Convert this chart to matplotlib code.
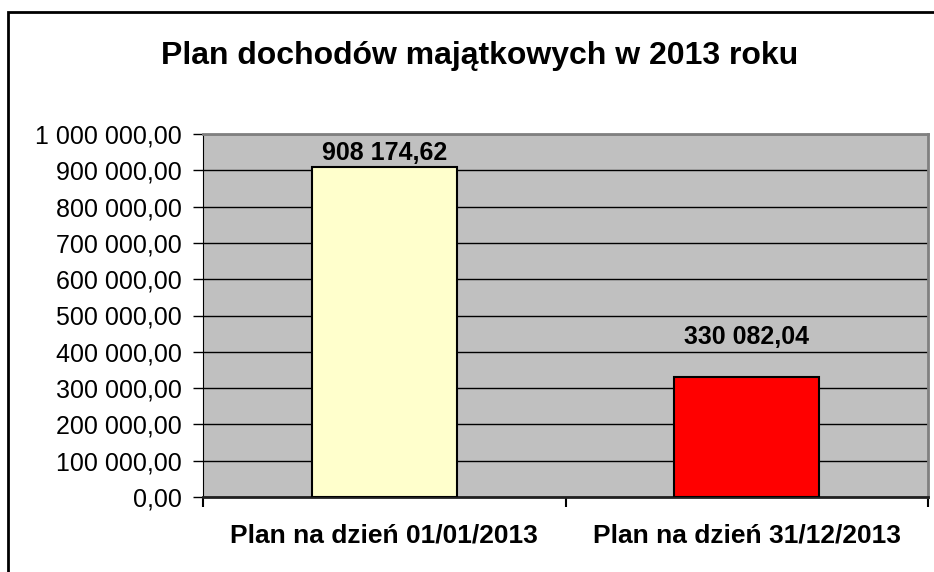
import matplotlib.pyplot as plt
from matplotlib.patches import Rectangle
from matplotlib.ticker import FuncFormatter, MultipleLocator

categories = ["Plan na dzień 01/01/2013", "Plan na dzień 31/12/2013"]
values = [908174.62, 330082.04]
bar_colors = ["#FFFFCC", "#FF0000"]
label_offsets = [5, 24]  # points above bar top, as in the original sheet


def pl_fmt(v):
    s = f"{v:,.2f}"
    return s.replace(",", " ").replace(".", ",")


plt.rcParams['font.family'] = ['Liberation Sans', 'DejaVu Sans']

fig = plt.figure(figsize=(9.34, 5.72), dpi=100)
ax = fig.add_axes([203 / 934, 1 - 497 / 572, 725 / 934, 363 / 572])

# outer chart border
fig.patches.append(Rectangle((8 / 934, -0.1), 1.2, 1 - 12 / 572 + 0.1,
                             transform=fig.transFigure, fill=False,
                             edgecolor='black', linewidth=2))

ax.set_facecolor('#C0C0C0')
x = range(len(categories))
ax.bar(x, values, width=0.4, color=bar_colors, edgecolor='black', linewidth=1.5, zorder=3)

ax.set_xlim(-0.5, len(categories) - 0.5)
ax.set_ylim(0, 1000000)
ax.yaxis.set_major_locator(MultipleLocator(100000))
ax.yaxis.set_major_formatter(FuncFormatter(lambda v, p: pl_fmt(v)))
ax.grid(axis='y', color='black', linewidth=1, zorder=1)
ax.set_axisbelow(True)

ax.set_xticks([-0.5, 0.5, 1.5])
ax.set_xticklabels([])
ax.set_xticks(list(x), minor=True)
ax.set_xticklabels(categories, minor=True, fontsize=19, fontweight='bold')
ax.tick_params(axis='x', which='minor', length=0, pad=19)
ax.tick_params(axis='x', which='major', length=7, width=1.5, color='black')
ax.tick_params(axis='y', length=7, width=1, labelsize=18, pad=8)

for s in ['top', 'right']:
    ax.spines[s].set_color('#808080')
    ax.spines[s].set_linewidth(2)
ax.spines['left'].set_color('black')
ax.spines['bottom'].set_color('#202020')
ax.spines['bottom'].set_linewidth(2)

for i, v in enumerate(values):
    ax.annotate(pl_fmt(v), (i, v), xytext=(0, label_offsets[i]), textcoords='offset points',
                ha='center', va='baseline', fontsize=18, fontweight='bold', zorder=4)

fig.text(480 / 934, 1 - 64 / 572, "Plan dochodów majątkowych w 2013 roku",
         ha='center', va='baseline', fontsize=23, fontweight='bold')

fig.savefig("out.png", dpi=100)
